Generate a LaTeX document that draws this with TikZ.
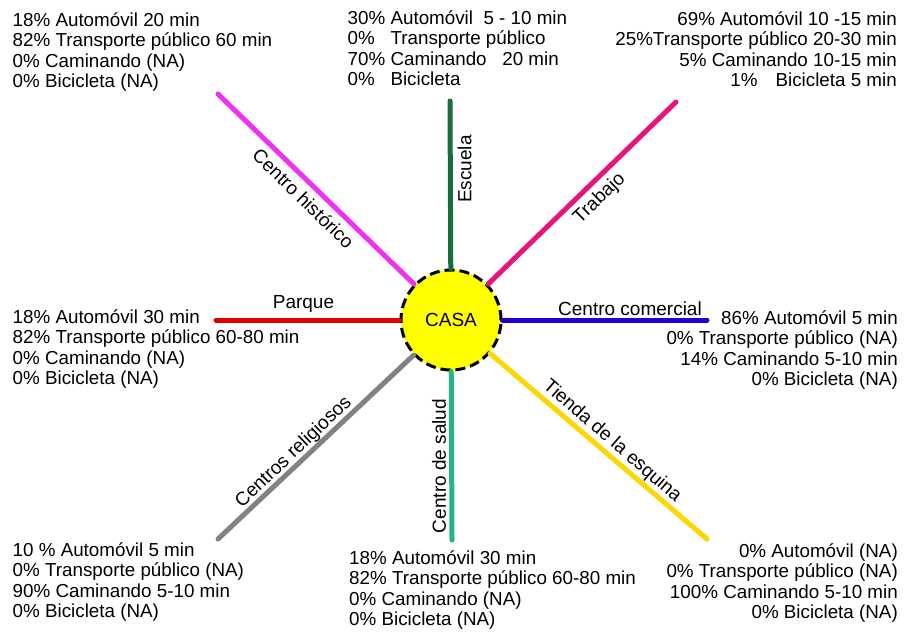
\documentclass[tikz,border=0pt]{standalone}
\usepackage{fontspec}
\setmainfont{Liberation Sans}
\definecolor{casayellow}{RGB}{255,255,0}
\definecolor{cEscuela}{RGB}{22,110,60}
\definecolor{cTrabajo}{RGB}{232,20,125}
\definecolor{cHistorico}{RGB}{240,50,240}
\definecolor{cParque}{RGB}{225,0,0}
\definecolor{cComercial}{RGB}{30,0,210}
\definecolor{cReligiosos}{RGB}{130,130,130}
\definecolor{cSalud}{RGB}{40,180,130}
\definecolor{cTienda}{RGB}{255,215,0}
\begin{document}
\begin{tikzpicture}[x=1pt,y=-1pt,
  road/.style={line width=5pt, line cap=round},
  info/.style={inner sep=0pt, font=\fontsize{18.8}{20.5}\selectfont},
  infoL/.style={info, anchor=base west},
  infoR/.style={info, anchor=base east},
  tag/.style={inner sep=0pt, anchor=base, font=\fontsize{19}{22}\selectfont},
]
\useasboundingbox[fill=white] (0,0) rectangle (904,635);

% central node
\node[circle, draw=black, fill=casayellow, line width=3pt,
      dash pattern=on 10pt off 5pt, minimum size=100pt, inner sep=0pt,
      font=\fontsize{19}{22}\selectfont] (casa) at (451,320) {CASA};

% outer ends of the spokes
\coordinate (escEnd)  at (450,101);
\coordinate (trabEnd) at (676,102);
\coordinate (histEnd) at (218,94);
\coordinate (parqEnd) at (216,320);
\coordinate (comEnd)  at (707,320);
\coordinate (relEnd)  at (218,539);
\coordinate (salEnd)  at (452,540);
\coordinate (tienEnd) at (707,539);

% spokes
\draw[road, cEscuela]    (casa) -- (escEnd);
\draw[road, cTrabajo]    (casa) -- (trabEnd);
\draw[road, cHistorico]  (casa) -- (histEnd);
\draw[road, cParque]     (casa) -- (parqEnd);
\draw[road, cComercial]  (casa) -- (comEnd);
\draw[road, cReligiosos] (casa) -- (relEnd);
\draw[road, cSalud]      (casa) -- (salEnd);
\draw[road, cTienda]     (casa) -- (tienEnd);

% spoke labels
\node[tag, rotate=90]    (lEsc)  at (471.3,169)   {Escuela};
\node[tag, rotate=44.1]  (lTrab) at (603,202)     {Trabajo};
\node[tag, rotate=-44.4] (lHist) at (298.7,203.4) {Centro histórico};
\node[tag]               (lParq) at (303.5,308)   {Parque};
\node[tag]               (lCom)  at (630,315)     {Centro comercial};
\node[tag, rotate=43.6]  (lRel)  at (297.2,456)   {Centros religiosos};
\node[tag, rotate=90]    (lSal)  at (445.8,466)   {Centro de salud};
\node[tag, rotate=-40.7] (lTien) at (608.9,445.2) {Tienda de la esquina};

% travel data for each destination
\node[infoL] (dHist) at (12.5,26) {\begin{tabular}[t]{@{}l@{}}
18\% Automóvil 20 min\\
82\% Transporte público 60 min\\
0\% Caminando (NA)\\
0\% Bicicleta (NA)
\end{tabular}};

\node[infoL] (dEsc) at (347.5,24) {\begin{tabular}[t]{@{}l@{}}
30\% Automóvil\ \ 5 - 10 min\\
0\%\ \ \ Transporte público\\
70\% Caminando\ \ \ 20 min\\
0\%\ \ \ Bicicleta
\end{tabular}};

\node[infoR] (dTrab) at (897,25) {\begin{tabular}[t]{@{}r@{}}
69\% Automóvil 10 -15 min\\
25\%Transporte público 20-30 min\\
5\% Caminando 10-15 min\\
1\%\hspace{18pt}Bicicleta 5 min
\end{tabular}};

\node[infoL] (dParq) at (12.5,323) {\begin{tabular}[t]{@{}l@{}}
18\% Automóvil 30 min\\
82\% Transporte público 60-80 min\\
0\% Caminando (NA)\\
0\% Bicicleta (NA)
\end{tabular}};

\node[infoR] (dCom) at (898,324) {\begin{tabular}[t]{@{}r@{}}
86\% Automóvil 5 min\\
0\% Transporte público (NA)\\
14\% Caminando 5-10 min\\
0\% Bicicleta (NA)
\end{tabular}};

\node[infoL] (dRel) at (12.5,556) {\begin{tabular}[t]{@{}l@{}}
10 \% Automóvil 5 min\\
0\% Transporte público (NA)\\
90\% Caminando 5-10 min\\
0\% Bicicleta (NA)
\end{tabular}};

\node[infoL] (dSal) at (349,564) {\begin{tabular}[t]{@{}l@{}}
18\% Automóvil 30 min\\
82\% Transporte público 60-80 min\\
0\% Caminando (NA)\\
0\% Bicicleta (NA)
\end{tabular}};

\node[infoR] (dTien) at (898,557) {\begin{tabular}[t]{@{}r@{}}
0\% Automóvil (NA)\\
0\% Transporte público (NA)\\
100\% Caminando 5-10 min\\
0\% Bicicleta (NA)
\end{tabular}};
\end{tikzpicture}
\end{document}
